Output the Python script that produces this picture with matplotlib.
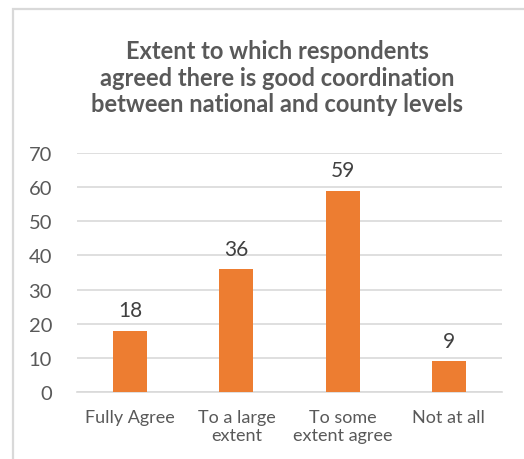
import matplotlib.pyplot as plt
from matplotlib.patches import Rectangle

categories = ['Fully Agree', 'To a large\nextent', 'To some\nextent agree', 'Not at all']
values = [18, 36, 59, 9]
title = 'Extent to which respondents\nagreed there is good coordination\nbetween national and county levels'

plt.rcParams['font.family'] = ['Lato', 'DejaVu Sans']

fig = plt.figure(figsize=(5.24, 4.6), dpi=100)
ax = fig.add_axes([77 / 524, 1 - 393 / 460, (502 - 77) / 524, (393 - 154) / 460])

# outer chart border (cut off at right and bottom as in the source)
fig.patches.append(Rectangle((13 / 524, -0.1), 1.2, 1 - 10 / 460 + 0.1,
                             transform=fig.transFigure, fill=False,
                             edgecolor='#d9d9d9', lw=1.6))

x = range(len(categories))
bars = ax.bar(x, values, width=0.32, color='#ED7D31', zorder=3)
for b, v in zip(bars, values):
    ax.text(b.get_x() + b.get_width() / 2, v + 3, str(v), ha='center', va='bottom',
            fontsize=15, color='#404040')

ax.set_ylim(0, 70)
ax.set_xlim(-0.5, 3.5)
ax.set_yticks(range(0, 71, 10))
ax.yaxis.grid(True, color='#d9d9d9', lw=1.2, zorder=0)
ax.set_xticks(list(x))
ax.set_xticklabels(categories, fontsize=13, color='#595959', linespacing=1.15)
ax.tick_params(axis='y', labelsize=14.5, labelcolor='#595959', length=0, pad=18)
ax.tick_params(axis='x', length=0, pad=12)
for s in ['top', 'right', 'left']:
    ax.spines[s].set_visible(False)
ax.spines['bottom'].set_color('#d9d9d9')
ax.spines['bottom'].set_linewidth(1.2)

fig.text(277 / 524, 1 - 78 / 460, title, ha='center', va='center', fontsize=17,
         fontweight='bold', color='#595959', linespacing=1.2)

fig.savefig('out.png', dpi=100)
